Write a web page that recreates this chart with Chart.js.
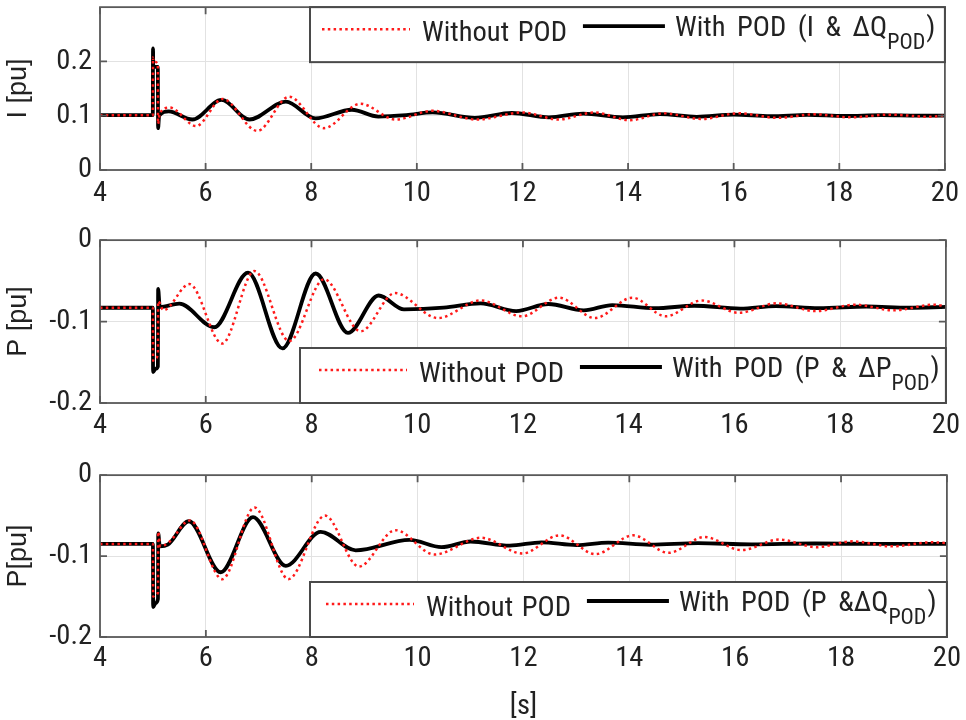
<!DOCTYPE html>
<html>
<head>
<meta charset="utf-8">
<script src="https://cdn.jsdelivr.net/npm/chart.js@4.4.1/dist/chart.umd.min.js"></script>
<style>
  html, body { margin: 0; padding: 0; background: #fff; width: 966px; height: 720px; overflow: hidden; }
  canvas { position: absolute; left: 0; }
</style>
</head>
<body>
<canvas id="cI" width="966" height="238" style="top:-18px"></canvas>
<canvas id="cP" width="966" height="238" style="top:215px"></canvas>
<canvas id="cQ" width="966" height="274" style="top:450px"></canvas>
<script>
// ---- time axis ----
const xTicks = [4, 6, 8, 10, 12, 14, 16, 18, 20];
const iTicks = [0, 0.1, 0.2];
const pTicks = [-0.2, -0.1, 0];

// ---- current magnitude, I [pu] ----
const tIWithout = [4, 5.0, 5.004, 5.01, 5.095, 5.1, 5.13, 5.32, 5.82, 6.32, 6.98, 7.58, 8.24, 8.93, 9.6, 10.29, 11.13, 12.0, 12.68, 13.36, 14.03, 14.67, 15.39, 16.09, 16.83, 17.53, 18.21, 18.96, 19.7, 20];
const iWithout  = [0.101, 0.101, 0.207, 0.2, 0.195, 0.085, 0.104, 0.115, 0.081, 0.131, 0.072, 0.135, 0.077, 0.122, 0.093, 0.109, 0.093, 0.106, 0.093, 0.106, 0.0916, 0.1045, 0.094, 0.1045, 0.096, 0.1026, 0.097, 0.102, 0.098, 0.1];
const tIWith = [4, 5.0, 5.004, 5.008, 5.095, 5.1, 5.12, 5.3, 5.75, 6.3, 6.83, 7.52, 8.08, 8.77, 9.27, 9.8, 10.3, 11.1, 11.8, 12.5, 13.15, 13.9, 14.6, 15.3, 16.0, 16.7, 17.4, 18.1, 18.8, 19.5, 20];
const iWith  = [0.101, 0.101, 0.224, 0.19, 0.19, 0.077, 0.1, 0.108, 0.093, 0.129, 0.093, 0.126, 0.095, 0.111, 0.0985, 0.101, 0.106, 0.096, 0.105, 0.097, 0.104, 0.097, 0.103, 0.098, 0.102, 0.099, 0.1015, 0.0995, 0.101, 0.1, 0.1];

// ---- active power, P & dP_POD ----
const tPWithout = [4, 5.0, 5.004, 5.05, 5.095, 5.1, 5.2, 5.69, 6.31, 6.92, 7.58, 8.24, 8.93, 9.58, 10.39, 11.2, 11.98, 12.68, 13.36, 14.07, 14.7, 15.38, 16.08, 16.8, 17.53, 18.28, 19.02, 19.77, 20];
const pWithout  = [-0.083, -0.083, -0.148, -0.145, -0.14, -0.075, -0.086, -0.054, -0.127, -0.038, -0.124, -0.048, -0.112, -0.065, -0.0957, -0.0741, -0.0935, -0.0707, -0.0957, -0.0707, -0.0935, -0.0741, -0.0892, -0.0776, -0.0871, -0.0793, -0.0862, -0.0793, -0.081];
const tPWith = [4, 5.0, 5.004, 5.05, 5.095, 5.1, 5.13, 5.5, 6.16, 6.8, 7.45, 8.08, 8.69, 9.27, 9.75, 10.5, 11.2, 11.87, 12.48, 13.15, 13.69, 14.5, 15.24, 16.11, 16.78, 17.6, 18.5, 19.3, 20];
const pWith  = [-0.083, -0.083, -0.162, -0.158, -0.155, -0.06, -0.082, -0.078, -0.107, -0.04, -0.133, -0.041, -0.114, -0.068, -0.085, -0.083, -0.0776, -0.0871, -0.0784, -0.0862, -0.0797, -0.0836, -0.0806, -0.084, -0.081, -0.0835, -0.0815, -0.083, -0.082];

// ---- active power, P & dQ_POD ----
const tQWithout = [4, 5.0, 5.004, 5.05, 5.095, 5.1, 5.14, 5.3, 5.7, 6.31, 6.92, 7.56, 8.25, 8.89, 9.58, 10.32, 11.2, 11.98, 12.68, 13.36, 14.07, 14.74, 15.42, 16.12, 16.83, 17.54, 18.21, 18.96, 19.7, 20];
const qWithout  = [-0.085, -0.085, -0.15, -0.148, -0.145, -0.07, -0.088, -0.083, -0.056, -0.1285, -0.04, -0.1285, -0.05, -0.113, -0.068, -0.098, -0.0774, -0.0968, -0.0744, -0.0976, -0.0744, -0.096, -0.0765, -0.0926, -0.0796, -0.089, -0.0818, -0.088, -0.083, -0.084];
const tQWith = [4, 5.0, 5.004, 5.05, 5.095, 5.1, 5.13, 5.28, 5.68, 6.28, 6.89, 7.51, 8.17, 8.83, 9.85, 10.45, 11.0, 11.74, 12.34, 13.0, 13.6, 14.4, 15.3, 16.3, 17.5, 18.7, 20];
const qWith  = [-0.085, -0.085, -0.163, -0.158, -0.153, -0.072, -0.088, -0.086, -0.057, -0.12, -0.052, -0.112, -0.07, -0.093, -0.08, -0.089, -0.082, -0.087, -0.083, -0.0865, -0.0835, -0.086, -0.084, -0.0855, -0.0845, -0.085, -0.085];

// ---- styling ----
const RED = '#ff1a1a';
const INK = '#222222';
const FRAME = '#5a5a5a';
const GRID = '#e2e2e2';

// pick a condensed sans face if one is installed
const FACE = (() => {
  const c = document.createElement('canvas').getContext('2d');
  const probe = 'Without POD 0.1 [pu] 20';
  c.font = '100px "Liberation Sans"';
  const ref = c.measureText(probe).width;
  c.font = '100px monospace';
  const mono = c.measureText(probe).width;
  const cands = [
    { family: '"Liberation Sans Narrow"' },
    { family: '"Arial Narrow"' },
    { family: '"Roboto Condensed"' },
    { family: 'Roboto', weight: 'condensed' },
    { family: '"Noto Sans"', weight: 'semi-condensed' },
    { family: '"Open Sans"', weight: 'condensed' },
    { family: '"Noto Sans"', weight: 'condensed' }
  ];
  for (const f of cands) {
    c.font = `${f.weight ? f.weight + ' ' : ''}100px ${f.family}, monospace`;
    const w = c.measureText(probe).width;
    const r = w / ref;
    if (Math.abs(w - mono) > 1 && r > 0.7 && r < 0.93) return { family: f.family, weight: f.weight, ratio: r };
  }
  return { family: '"Liberation Sans"', weight: undefined, ratio: 1 };
})();
const FAMILY = `${FACE.family}, "Liberation Sans", Arial, sans-serif`;
const FS = FACE.ratio < 1 ? Math.min(31, 24.8 / FACE.ratio) : 25.5;
const SUB = Math.round(FS * 0.78);
const TICK_FONT = { family: FAMILY, size: FS, weight: FACE.weight };
const YTITLE_FONT = { family: '"Liberation Sans", Arial, sans-serif', size: 27 };
const fontStr = size => `${FACE.weight ? FACE.weight + ' ' : ''}${size}px ${FAMILY}`;

const pts = (t, v) => t.map((x, i) => ({ x, y: v[i] }));

// box around the plot area with inward tick marks
const framePlugin = {
  id: 'frameBox',
  afterDatasetsDraw(chart) {
    const { ctx, chartArea: a, scales: { x, y } } = chart;
    ctx.save();
    ctx.strokeStyle = FRAME;
    ctx.lineWidth = 1.8;
    ctx.beginPath();
    for (const t of x.ticks) {
      const px = x.getPixelForValue(t.value);
      ctx.moveTo(px, a.bottom); ctx.lineTo(px, a.bottom - 7);
      ctx.moveTo(px, a.top); ctx.lineTo(px, a.top + 7);
    }
    for (const t of y.ticks) {
      const py = y.getPixelForValue(t.value);
      ctx.moveTo(a.left, py); ctx.lineTo(a.left + 7, py);
      ctx.moveTo(a.right, py); ctx.lineTo(a.right - 7, py);
    }
    ctx.stroke();
    ctx.strokeRect(a.left, a.top, a.right - a.left, a.bottom - a.top);
    ctx.restore();
  }
};

// text written word by word with a little extra gap between words
function spacedText(ctx, text, x, y, gap) {
  const words = text.split(' ');
  const space = ctx.measureText(' ').width + gap;
  words.forEach((w, i) => {
    ctx.fillText(w, x, y);
    x += ctx.measureText(w).width + (i < words.length - 1 ? space : 0);
  });
  return x;
}

// legend box with a subscripted second entry
const podLegend = {
  id: 'podLegend',
  afterDatasetsDraw(chart, _args, o) {
    if (!o || o.left == null) return;
    const { ctx, chartArea: a } = chart;
    const top = o.anchor === 'top' ? a.top : a.bottom - o.height;
    const L = o.left, R = a.right;
    ctx.save();
    ctx.fillStyle = '#fff';
    ctx.fillRect(L, top, R - L, o.height);
    ctx.strokeStyle = '#4a4a4a';
    ctx.lineWidth = 2;
    ctx.strokeRect(L, top, R - L, o.height);

    const [red, blk] = chart.data.datasets;
    let x = L + o.pad;
    ctx.strokeStyle = red.borderColor;
    ctx.lineWidth = red.borderWidth;
    ctx.setLineDash(red.borderDash);
    ctx.beginPath(); ctx.moveTo(x, top + 22); ctx.lineTo(x + 88, top + 22); ctx.stroke();
    ctx.setLineDash([]);
    x += 88 + 12;

    ctx.font = fontStr(FS);
    ctx.fillStyle = INK;
    ctx.textAlign = 'left';
    ctx.textBaseline = 'alphabetic';
    x = spacedText(ctx, red.label, x, top + 34, 2) + 16;

    ctx.strokeStyle = blk.borderColor;
    ctx.lineWidth = blk.borderWidth;
    ctx.beginPath(); ctx.moveTo(x, top + 19); ctx.lineTo(x + 82, top + 19); ctx.stroke();
    x += 82 + 10;

    const m = blk.label.match(/^(.*)_\{(.*)\}(.*)$/);
    x = spacedText(ctx, m[1], x, top + 29, 5);
    ctx.font = fontStr(SUB);
    ctx.fillText(m[2], x, top + 42);
    x += ctx.measureText(m[2]).width + 1;
    ctx.font = fontStr(FS);
    ctx.fillText(m[3], x, top + 29);
    ctx.restore();
  }
};

function makePanel(id, cfg) {
  return new Chart(document.getElementById(id), {
    type: 'line',
    data: {
      datasets: [
        { label: 'Without POD', data: pts(cfg.tWo, cfg.vWo), borderColor: RED, borderWidth: 2.5, borderDash: [2.5, 3.3], borderCapStyle: 'butt' },
        { label: cfg.withLabel, data: pts(cfg.tW, cfg.vW), borderColor: '#000', borderWidth: 3.8, borderJoinStyle: 'round' }
      ]
    },
    options: {
      responsive: false,
      animation: false,
      events: [],
      layout: { padding: { top: 21, right: 16, left: 0, bottom: 0 } },
      elements: { point: { radius: 0 }, line: { cubicInterpolationMode: 'monotone' } },
      plugins: {
        legend: { display: false },
        tooltip: { enabled: false },
        podLegend: cfg.legend
      },
      scales: {
        x: {
          type: 'linear', min: 4, max: 20,
          afterBuildTicks: s => { s.ticks = xTicks.map(v => ({ value: v })); },
          afterFit: s => { s.height = cfg.h - cfg.bottom; },
          grid: { color: GRID, lineWidth: 1, drawTicks: false },
          border: { display: false },
          ticks: { font: TICK_FONT, color: INK, padding: cfg.xPad, maxRotation: 0, autoSkip: false },
          title: cfg.xTitle ? { display: true, text: cfg.xTitle, font: TICK_FONT, color: INK, padding: { top: 0, bottom: 0 } } : { display: false }
        },
        y: {
          type: 'linear', min: cfg.yMin, max: cfg.yMax,
          afterBuildTicks: s => { s.ticks = cfg.yTicks.map(v => ({ value: v })); },
          afterFit: s => { s.width = 100; },
          grid: { color: GRID, lineWidth: 1, drawTicks: false },
          border: { display: false },
          ticks: { font: TICK_FONT, color: INK, padding: 8 },
          title: { display: true, text: cfg.yTitle, font: YTITLE_FONT, color: INK, padding: { top: 2, bottom: 0 } }
        }
      }
    },
    plugins: [framePlugin, podLegend]
  });
}

makePanel('cI', {
  h: 238, bottom: 188, xPad: 7, yMin: 0, yMax: 0.3, yTicks: iTicks, yTitle: 'I [pu]',
  tWo: tIWithout, vWo: iWithout, tW: tIWith, vW: iWith,
  withLabel: 'With POD (I & \u0394Q_{POD})',
  legend: { anchor: 'top', left: 310, height: 55, pad: 12 }
});
makePanel('cP', {
  h: 238, bottom: 188, xPad: 6, yMin: -0.2, yMax: 0, yTicks: pTicks, yTitle: 'P [pu]',
  tWo: tPWithout, vWo: pWithout, tW: tPWith, vW: pWith,
  withLabel: 'With POD (P & \u0394P_{POD})',
  legend: { anchor: 'bottom', left: 300, height: 55, pad: 19 }
});
makePanel('cQ', {
  h: 274, bottom: 187, xPad: 5, yMin: -0.2, yMax: 0, yTicks: pTicks, yTitle: 'P[pu]', xTitle: '[s]',
  tWo: tQWithout, vWo: qWithout, tW: tQWith, vW: qWith,
  withLabel: 'With POD (P &\u0394Q_{POD})',
  legend: { anchor: 'bottom', left: 310, height: 55, pad: 16 }
});
</script>
</body>
</html>
